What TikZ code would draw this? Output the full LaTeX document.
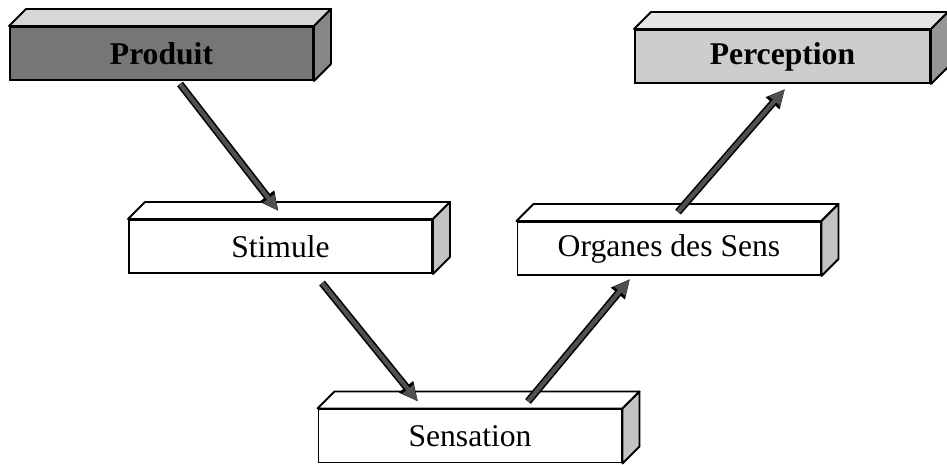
\documentclass[tikz,border=0pt]{standalone}
\usepackage{fontspec}
\setmainfont{Liberation Serif}
\usetikzlibrary{arrows.meta,calc}
\definecolor{ink}{RGB}{0,0,0}
\definecolor{shaft}{RGB}{80,80,80}
\definecolor{darkfront}{RGB}{118,118,118}
\definecolor{darktop}{RGB}{215,215,215}
\definecolor{darkside}{RGB}{135,135,135}
\definecolor{lightfront}{RGB}{205,205,205}
\definecolor{lighttop}{RGB}{228,228,228}
\definecolor{lightside}{RGB}{150,150,150}
\definecolor{plainside}{RGB}{195,195,195}
\tikzset{
  every picture/.style={color=ink, line width=1.1pt},
  box/.style={draw=ink, fill=white, inner sep=0pt, minimum width=60.6mm, minimum height=10.6mm,
    align=center, font=\fontsize{18}{21}\selectfont},
  dark/.style={box, fill=darkfront, font=\fontsize{18}{21}\selectfont\bfseries},
  light/.style={box, fill=lightfront, font=\fontsize{18}{21}\selectfont\bfseries},
  flow/.style={-{Triangle[length=3.2mm,width=2.6mm]}, line width=2.4pt, color=shaft,
    preaction={draw=ink, line width=4.2pt, -{Triangle[length=3.8mm,width=3.4mm]}}},
}

\begin{document}
\begin{tikzpicture}[x=0.2mm, y=0.2mm]
  \useasboundingbox (0,0) rectangle (947,464);
  % front faces; top and side faces are added below
  \node[dark]  (prod) at (161.5,410.5) {Produit};
  \node[box]   (stim) at (280.5,217.5) {Stimule};
  \node[box]   (sens) at (470,28)      {Sensation};
  \node[box]   (org)  at (669,215.5)   {Organes des Sens};
  \node[light, minimum width=59mm] (perc) at (782.5,407.5) {Perception};
  \foreach \n/\tc/\sc in {prod/darktop/darkside, stim/white/plainside, sens/white/plainside,
      org/white/plainside, perc/lighttop/lightside} {
    \draw[fill=\tc, line join=round] (\n.north west) -- ++(17,17) -- ($(\n.north east)+(17,17)$) -- (\n.north east) -- cycle;
    \draw[fill=\sc, line join=round] (\n.north east) -- ++(17,17) -- ($(\n.south east)+(17,17)$) -- (\n.south east) -- cycle;
  }
  % arrows
  \coordinate (a1) at ([shift={(18.5,-3)}]prod.south);
  \coordinate (b1) at ([shift={(-2,8)}]stim.north);
  \coordinate (a2) at ([shift={(41.5,-9)}]stim.south);
  \coordinate (b2) at ([shift={(-52,7)}]sens.north);
  \coordinate (a3) at ([shift={(58,7)}]sens.north);
  \coordinate (b3) at ([shift={(-39,-3)}]org.south);
  \coordinate (a4) at ([shift={(9,9)}]org.north);
  \coordinate (b4) at ([shift={(2.5,-5)}]perc.south);
  \foreach \s/\t in {a1/b1, a2/b2, a3/b3, a4/b4} { \draw[flow] (\s) -- (\t); }
\end{tikzpicture}
\end{document}
